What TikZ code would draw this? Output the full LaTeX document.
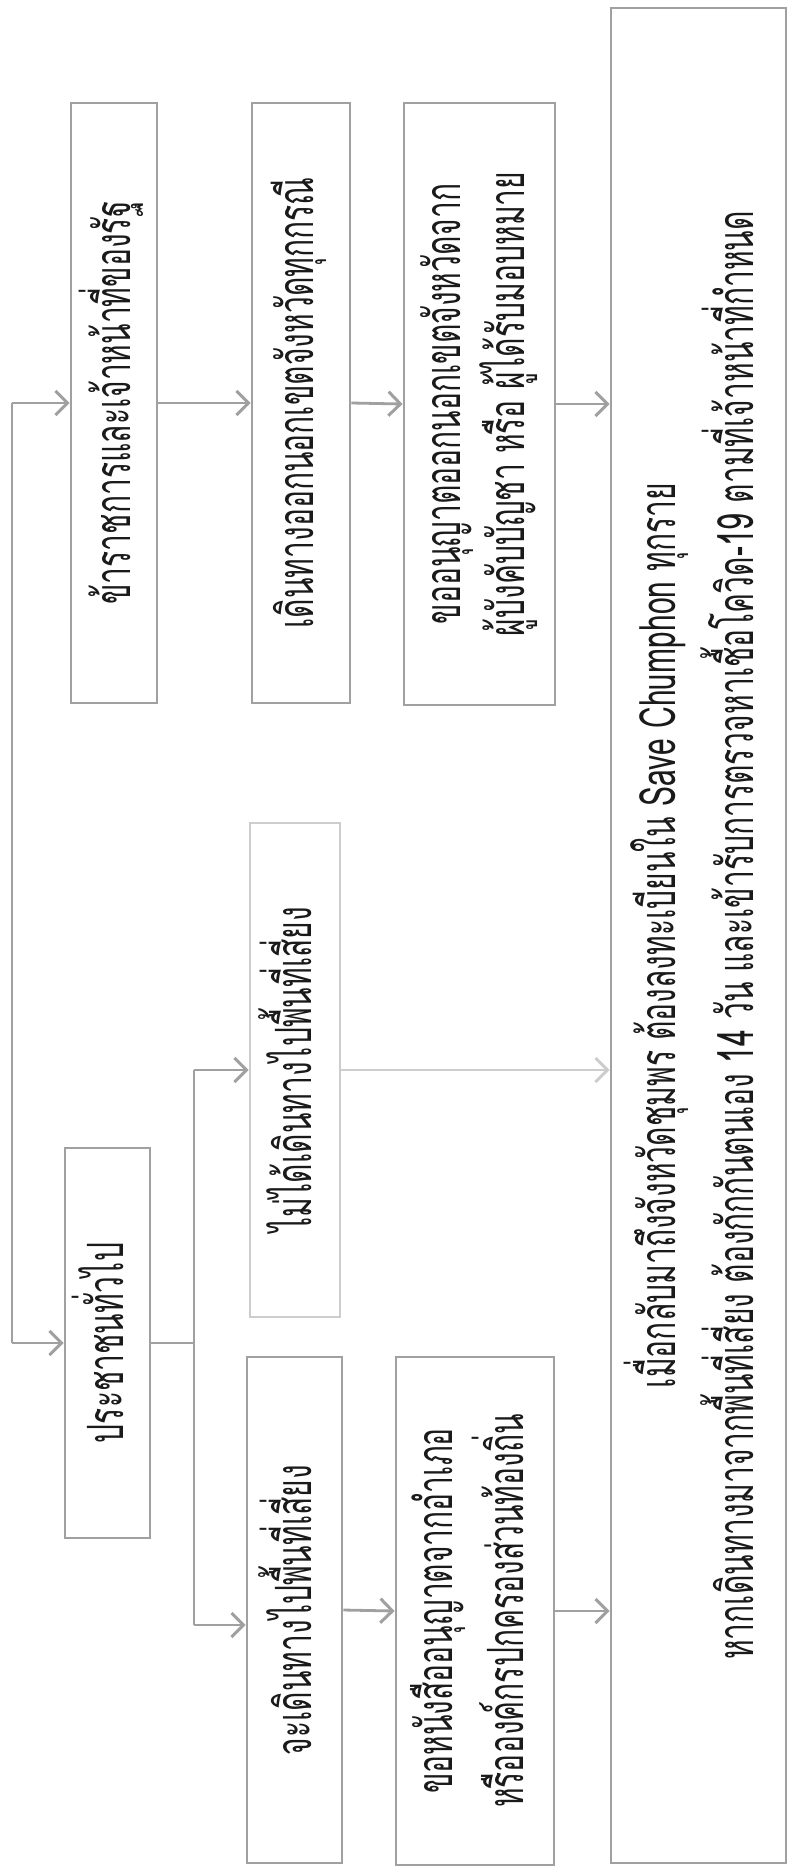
\documentclass[tikz,border=0pt]{standalone}
\usepackage{fontspec}
\usepackage{graphicx}
\newfontfamily\thaifont[Script=Thai,FakeStretch=0.60]{Loma}
\usetikzlibrary{arrows.meta}
\definecolor{linegray}{HTML}{A0A0A0}
\definecolor{palegray}{HTML}{CDCDCD}
\definecolor{txt}{HTML}{1A1A1A}
\newcommand\rtxt[1]{\rotatebox{90}{\begin{tabular}{@{}c@{}}#1\end{tabular}}}
\begin{document}
\begin{tikzpicture}[x=1pt,y=-1pt,
  box/.style={draw=linegray,line width=2.8pt,rectangle,inner sep=0pt,text=txt,
    font=\thaifont\fontsize{50}{64}\selectfont},
  palebox/.style={box,draw=palegray},
  conn/.style={draw=linegray,line width=2.8pt},
  arr/.style={conn,-{Straight Barb[length=12pt,width=24pt,line width=3pt]}},
  palearr/.style={arr,draw=palegray}]
\useasboundingbox (0,0) rectangle (795,1876);
\fill[white] (0,0) rectangle (795,1876);

\node[box,minimum width=86pt,minimum height=600pt] (A) at (114,403)
  {\rtxt{ข้าราชการและเจ้าหน้าที่ของรัฐ}};
\node[box,minimum width=98pt,minimum height=600pt] (B) at (301,403)
  {\rtxt{เดินทางออกนอกเขตจังหวัดทุกกรณี}};
\node[box,minimum width=151pt,minimum height=602pt] (C) at (479.5,404)
  {\rtxt{ขออนุญาตออกนอกเขตจังหวัดจาก\\ผู้บังคับบัญชา หรือ ผู้ได้รับมอบหมาย}};
\node[box,minimum width=175pt,minimum height=1855pt] (D) at (698.5,935.5)
  {\rtxt{เมื่อกลับมาถึงจังหวัดชุมพร ต้องลงทะเบียนใน Save Chumphon ทุกราย\\[6pt]หากเดินทางมาจากพื้นที่เสี่ยง ต้องกักกันตนเอง 14 วัน และเข้ารับการตรวจหาเชื้อโควิด-19 ตามที่เจ้าหน้าที่กำหนด}};
\node[palebox,minimum width=90pt,minimum height=494pt] (N) at (295,1070)
  {\rtxt{ไม่ได้เดินทางไปพื้นที่เสี่ยง}};
\node[box,minimum width=85pt,minimum height=390pt] (P) at (107.5,1343)
  {\rtxt{ประชาชนทั่วไป}};
\node[box,minimum width=95pt,minimum height=506pt] (G) at (294.5,1610)
  {\rtxt{จะเดินทางไปพื้นที่เสี่ยง}};
\node[box,minimum width=158pt,minimum height=508pt] (H) at (475,1611)
  {\rtxt{ขอหนังสืออนุญาตจากอำเภอ\\หรือองค์กรปกครองส่วนท้องถิ่น}};

\coordinate (L1) at (12,403);
\coordinate (L2) at (12,1343);
\coordinate (M1) at (194,1070);
\coordinate (M2) at (194,1625);

\draw[conn] (L1) -- (L2);
\draw[arr] (L1) -- (A.west);
\draw[arr] (L2) -- (P.west);
\draw[arr] (A.east) -- (B.west);
\draw[arr] (B.east) -- (C.west);
\draw[arr] (C.east) -- (C.east -| D.west);
\draw[conn] (P.east) -- (P.east -| M1);
\draw[conn] (M1) -- (M2);
\draw[arr] (M1) -- (N.west);
\draw[arr] (M2) -- (M2 -| G.west);
\draw[palearr] (N.east) -- (N.east -| D.west);
\draw[arr] (G.east) -- (H.west);
\draw[arr] (H.east) -- (H.east -| D.west);
\end{tikzpicture}
\end{document}
